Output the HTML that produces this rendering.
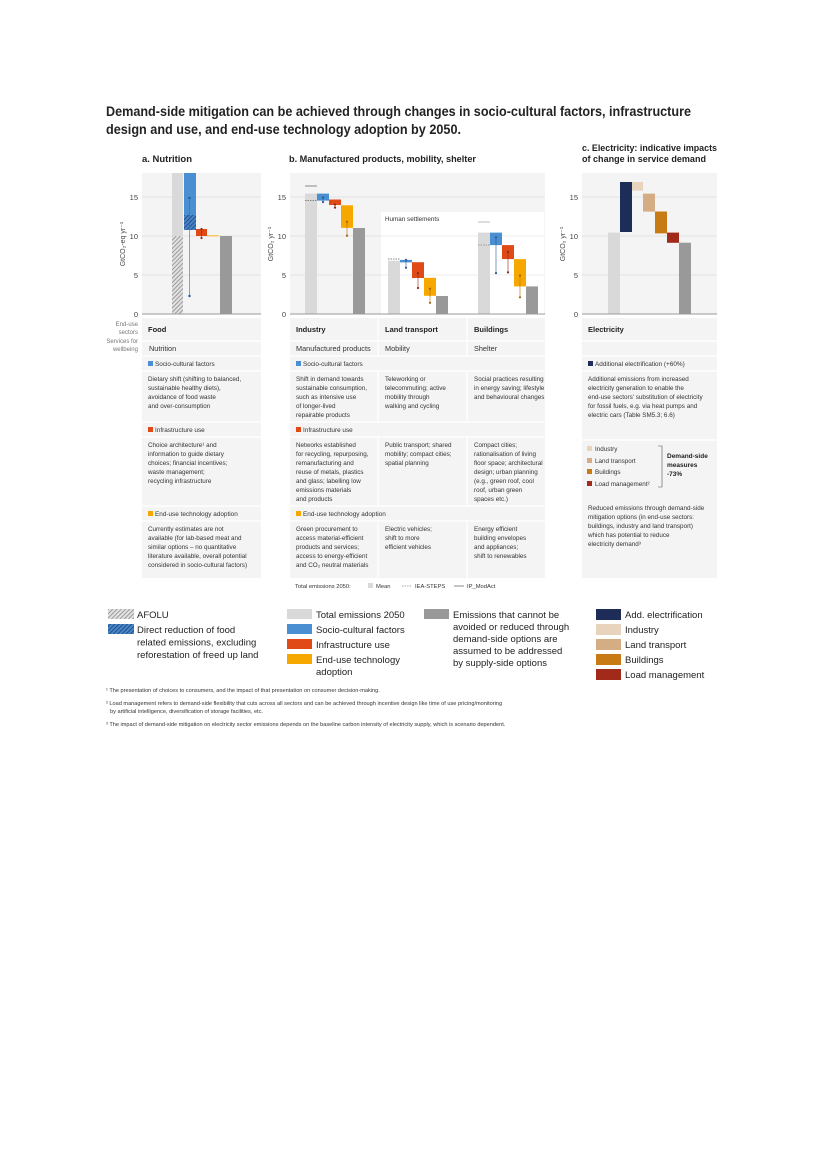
<!DOCTYPE html>
<html><head><meta charset="utf-8"><style>
body{margin:0;background:#fff;}
svg{display:block;font-family:"Liberation Sans",sans-serif;}
</style></head><body>
<svg width="827" height="1169" viewBox="0 0 827 1169" xmlns="http://www.w3.org/2000/svg">
<defs>
<pattern id="hg" width="3" height="3" patternUnits="userSpaceOnUse" patternTransform="rotate(45)">
<rect width="3" height="3" fill="#e2e2e2"/><rect width="1" height="3" fill="#9a9a9a"/></pattern>
<pattern id="hb" width="3" height="3" patternUnits="userSpaceOnUse" patternTransform="rotate(45)">
<rect width="3" height="3" fill="#4a86c8"/><rect width="1" height="3" fill="#1f4f8a"/></pattern>
</defs>
<!-- Title -->
<text x="106" y="116" font-size="13.5" font-weight="bold" fill="#222" textLength="585" lengthAdjust="spacingAndGlyphs">Demand-side mitigation can be achieved through changes in socio-cultural factors, infrastructure</text>
<text x="106" y="134" font-size="13.5" font-weight="bold" fill="#222" textLength="355" lengthAdjust="spacingAndGlyphs">design and use, and end-use technology adoption by 2050.</text>
<text x="142" y="162" font-size="9" font-weight="bold" fill="#222" textLength="50" lengthAdjust="spacingAndGlyphs">a. Nutrition</text>
<text x="289" y="162" font-size="9" font-weight="bold" fill="#222" textLength="187" lengthAdjust="spacingAndGlyphs">b. Manufactured products, mobility, shelter</text>
<text x="582" y="151" font-size="9" font-weight="bold" fill="#222" textLength="135" lengthAdjust="spacingAndGlyphs">c. Electricity: indicative impacts</text>
<text x="582" y="162" font-size="9" font-weight="bold" fill="#222" textLength="124" lengthAdjust="spacingAndGlyphs">of change in service demand</text>

<!-- plot backgrounds -->
<rect x="142" y="173" width="119" height="141" fill="#f4f4f4"/>
<rect x="290" y="173" width="255" height="141" fill="#f4f4f4"/>
<rect x="582" y="173" width="135" height="141" fill="#f4f4f4"/>
<g stroke="#e2e2e2" stroke-width="1">
<line x1="142" x2="261" y1="197" y2="197"/><line x1="142" x2="261" y1="236" y2="236"/><line x1="142" x2="261" y1="275" y2="275"/>
<line x1="290" x2="545" y1="197" y2="197"/><line x1="290" x2="381" y1="236" y2="236"/><line x1="290" x2="381" y1="275" y2="275"/>
<line x1="582" x2="717" y1="197" y2="197"/><line x1="582" x2="717" y1="236" y2="236"/><line x1="582" x2="717" y1="275" y2="275"/>
</g>
<rect x="381" y="212" width="163" height="102" fill="#fff"/>
<g stroke="#ececec"><line x1="381" x2="544" y1="236" y2="236"/><line x1="381" x2="544" y1="275" y2="275"/></g>
<text x="385" y="221" font-size="6.3" fill="#333">Human settlements</text>

<!-- tick labels -->
<g font-size="7.5" fill="#444" text-anchor="end">
<text x="138" y="200">15</text><text x="138" y="239">10</text><text x="138" y="278">5</text><text x="138" y="317">0</text>
<text x="286" y="200">15</text><text x="286" y="239">10</text><text x="286" y="278">5</text><text x="286" y="317">0</text>
<text x="578" y="200">15</text><text x="578" y="239">10</text><text x="578" y="278">5</text><text x="578" y="317">0</text>
</g>
<text transform="translate(125,244) rotate(-90)" font-size="7" fill="#444" text-anchor="middle">GtCO₂-eq yr⁻¹</text>
<text transform="translate(273,244) rotate(-90)" font-size="7" fill="#444" text-anchor="middle">GtCO₂ yr⁻¹</text>
<text transform="translate(565,244) rotate(-90)" font-size="7" fill="#444" text-anchor="middle">GtCO₂ yr⁻¹</text>

<!-- Panel a bars -->
<rect x="172" y="173" width="11" height="63" fill="#d9d9d9"/>
<rect x="172" y="236" width="11" height="78" fill="url(#hg)"/>
<rect x="184" y="173" width="12" height="42" fill="#4a8fd1"/>
<rect x="184" y="215" width="12" height="15" fill="url(#hb)"/>
<rect x="196" y="229" width="11" height="7" fill="#e04a17"/>
<rect x="207" y="235" width="12" height="1.5" fill="#f8c96a"/>
<rect x="220" y="236" width="12" height="78" fill="#999"/>
<line x1="189.5" x2="189.5" y1="198" y2="296" stroke="#3a6ea5" stroke-width="0.6"/>
<circle cx="189.5" cy="198" r="1.2" fill="#2a5a95"/><circle cx="189.5" cy="296" r="1.2" fill="#2a5a95"/>
<line x1="201.5" x2="201.5" y1="229" y2="238" stroke="#8a2a10" stroke-width="0.6"/>
<circle cx="201.5" cy="229" r="1.1" fill="#8a2a10"/><circle cx="201.5" cy="238" r="1.1" fill="#8a2a10"/>

<!-- Panel b Industry -->
<rect x="305" y="193.6" width="12" height="120" fill="#d9d9d9"/>
<line x1="305" x2="317" y1="186" y2="186" stroke="#888" stroke-width="1"/>
<line x1="305" x2="317" y1="200.6" y2="200.6" stroke="#666" stroke-width="0.7" stroke-dasharray="1.5,1"/>
<rect x="317" y="193.6" width="12" height="7" fill="#4a8fd1"/>
<rect x="329" y="199.5" width="12" height="5.5" fill="#e04a17"/>
<rect x="341" y="205.3" width="12" height="22.6" fill="#f6a800"/>
<rect x="353" y="228" width="12" height="86" fill="#999"/>
<!-- LT -->
<rect x="388" y="260.7" width="12" height="53" fill="#d9d9d9"/>
<line x1="388" x2="400" y1="259" y2="259" stroke="#666" stroke-width="0.7" stroke-dasharray="1.5,1"/>
<rect x="400" y="259.9" width="12" height="2.5" fill="#4a8fd1"/>
<rect x="412" y="262.2" width="12" height="15.8" fill="#e04a17"/>
<rect x="424" y="277.8" width="12" height="18" fill="#f6a800"/>
<rect x="436" y="296" width="12" height="18" fill="#999"/>
<!-- Buildings -->
<rect x="478" y="232.6" width="12" height="81" fill="#d9d9d9"/>
<line x1="478" x2="490" y1="222" y2="222" stroke="#bbb" stroke-width="1"/>
<line x1="478" x2="490" y1="245" y2="245" stroke="#888" stroke-width="0.7" stroke-dasharray="1.5,1"/>
<rect x="490" y="232.6" width="12" height="12.5" fill="#4a8fd1"/>
<rect x="502" y="245.1" width="12" height="14" fill="#e04a17"/>
<rect x="514" y="259.1" width="12" height="27.3" fill="#f6a800"/>
<rect x="526" y="286.4" width="12" height="27.3" fill="#999"/>
<!-- error bars b -->
<g stroke-width="0.6">
<line x1="323" x2="323" y1="197.5" y2="202" stroke="#2a5a95"/>
<line x1="335" x2="335" y1="204.5" y2="207.6" stroke="#8a2a10"/>
<line x1="347" x2="347" y1="221.7" y2="235.7" stroke="#b07000"/>
<line x1="406" x2="406" y1="259.9" y2="267.7" stroke="#2a5a95"/>
<line x1="418" x2="418" y1="273.1" y2="288" stroke="#8a2a10"/>
<line x1="430" x2="430" y1="288.7" y2="302.8" stroke="#b07000"/>
<line x1="496" x2="496" y1="237.3" y2="273.1" stroke="#2a5a95"/>
<line x1="508" x2="508" y1="252" y2="272.4" stroke="#8a2a10"/>
<line x1="520" x2="520" y1="275.5" y2="297.3" stroke="#b07000"/>
</g>
<g>
<circle cx="323" cy="197.5" r="1.1" fill="#2a5a95"/><circle cx="323" cy="202" r="1.1" fill="#2a5a95"/>
<circle cx="335" cy="204.5" r="1.1" fill="#8a2a10"/><circle cx="335" cy="207.6" r="1.1" fill="#8a2a10"/>
<circle cx="347" cy="221.7" r="1.1" fill="#a06000"/><circle cx="347" cy="235.7" r="1.1" fill="#a06000"/>
<circle cx="406" cy="259.9" r="1.1" fill="#2a5a95"/><circle cx="406" cy="267.7" r="1.1" fill="#2a5a95"/>
<circle cx="418" cy="273.1" r="1.1" fill="#8a2a10"/><circle cx="418" cy="288" r="1.1" fill="#8a2a10"/>
<circle cx="430" cy="288.7" r="1.1" fill="#a06000"/><circle cx="430" cy="302.8" r="1.1" fill="#a06000"/>
<circle cx="496" cy="237.3" r="1.1" fill="#2a5a95"/><circle cx="496" cy="273.1" r="1.1" fill="#2a5a95"/>
<circle cx="508" cy="252" r="1.1" fill="#8a2a10"/><circle cx="508" cy="272.4" r="1.1" fill="#8a2a10"/>
<circle cx="520" cy="275.5" r="1.1" fill="#a06000"/><circle cx="520" cy="297.3" r="1.1" fill="#a06000"/>
</g>
<!-- Panel c -->
<rect x="608" y="232.6" width="12" height="81" fill="#d9d9d9"/>
<rect x="620" y="182" width="12" height="50" fill="#1e2d57"/>
<rect x="632" y="182" width="11" height="8.6" fill="#e8d3bc"/>
<rect x="643" y="193.6" width="12" height="18" fill="#d5ad85"/>
<rect x="655" y="211.5" width="12" height="21.9" fill="#c87a14"/>
<rect x="667" y="232.6" width="12" height="10.2" fill="#a22a1a"/>
<rect x="679" y="242.7" width="12" height="71" fill="#999"/>
<!-- zero axes -->
<g stroke="#999" stroke-width="1"><line x1="142" x2="261" y1="314" y2="314"/><line x1="290" x2="545" y1="314" y2="314"/><line x1="582" x2="717" y1="314" y2="314"/></g>

<!-- Table side labels -->
<g font-size="6" fill="#777" text-anchor="end">
<text x="138" y="326">End-use</text><text x="138" y="334">sectors</text>
<text x="138" y="343">Services for</text><text x="138" y="351">wellbeing</text>
</g>
<!-- table backgrounds -->
<rect x="142" y="318" width="119" height="260" fill="#f4f4f4"/>
<rect x="290" y="318" width="255" height="260" fill="#f4f4f4"/>
<rect x="582" y="318" width="135" height="260" fill="#f4f4f4"/>
<g stroke="#fff" stroke-width="1.3">
<line x1="142" x2="261" y1="341" y2="341"/><line x1="142" x2="261" y1="356" y2="356"/><line x1="142" x2="261" y1="371" y2="371"/>
<line x1="142" x2="261" y1="422" y2="422"/><line x1="142" x2="261" y1="437" y2="437"/><line x1="142" x2="261" y1="506" y2="506"/><line x1="142" x2="261" y1="521" y2="521"/>
<line x1="290" x2="545" y1="341" y2="341"/><line x1="290" x2="545" y1="356" y2="356"/><line x1="290" x2="545" y1="371" y2="371"/>
<line x1="290" x2="545" y1="422" y2="422"/><line x1="290" x2="545" y1="437" y2="437"/><line x1="290" x2="545" y1="506" y2="506"/><line x1="290" x2="545" y1="521" y2="521"/>
<line x1="378" x2="378" y1="318" y2="356"/><line x1="467" x2="467" y1="318" y2="356"/>
<line x1="378" x2="378" y1="371" y2="422"/><line x1="467" x2="467" y1="371" y2="422"/>
<line x1="378" x2="378" y1="437" y2="506"/><line x1="467" x2="467" y1="437" y2="506"/>
<line x1="378" x2="378" y1="521" y2="578"/><line x1="467" x2="467" y1="521" y2="578"/>
<line x1="582" x2="717" y1="341" y2="341"/><line x1="582" x2="717" y1="356" y2="356"/><line x1="582" x2="717" y1="371" y2="371"/>
<line x1="582" x2="717" y1="440" y2="440"/>
</g>
<g font-size="7.5" font-weight="bold" fill="#222">
<text x="148" y="332">Food</text><text x="296" y="332">Industry</text><text x="385" y="332">Land transport</text><text x="474" y="332">Buildings</text><text x="588" y="332">Electricity</text>
</g>
<g font-size="7.3" fill="#333">
<text x="149" y="351">Nutrition</text><text x="296" y="351">Manufactured products</text><text x="385" y="351">Mobility</text><text x="474" y="351">Shelter</text>
</g>
<!-- section headers -->
<g font-size="6.4" fill="#333">
<rect x="148" y="361" width="5" height="5" fill="#4a8fd1"/><text x="155" y="366">Socio-cultural factors</text>
<rect x="148" y="427" width="5" height="5" fill="#e04a17"/><text x="155" y="432">Infrastructure use</text>
<rect x="148" y="511" width="5" height="5" fill="#f6a800"/><text x="155" y="516">End-use technology adoption</text>
<rect x="296" y="361" width="5" height="5" fill="#4a8fd1"/><text x="303" y="366">Socio-cultural factors</text>
<rect x="296" y="427" width="5" height="5" fill="#e04a17"/><text x="303" y="432">Infrastructure use</text>
<rect x="296" y="511" width="5" height="5" fill="#f6a800"/><text x="303" y="516">End-use technology adoption</text>
<rect x="588" y="361" width="5" height="5" fill="#1e2d57"/><text x="595" y="366">Additional electrification (+60%)</text>
</g>
<g font-size="6.3" fill="#333">
<text x="148" y="381">Dietary shift (shifting to balanced,</text><text x="148" y="390">sustainable healthy diets),</text><text x="148" y="399">avoidance of food waste</text><text x="148" y="408">and over-consumption</text>
<text x="148" y="447">Choice architecture¹ and</text><text x="148" y="456">information to guide dietary</text><text x="148" y="465">choices; financial incentives;</text><text x="148" y="474">waste management;</text><text x="148" y="483">recycling infrastructure</text>
<text x="148" y="531">Currently estimates are not</text><text x="148" y="540">available (for lab-based meat and</text><text x="148" y="549">similar options – no quantitative</text><text x="148" y="558">literature available, overall potential</text><text x="148" y="567">considered in socio-cultural factors)</text>

<text x="296" y="381">Shift in demand towards</text><text x="296" y="390">sustainable consumption,</text><text x="296" y="399">such as intensive use</text><text x="296" y="408">of longer-lived</text><text x="296" y="417">repairable products</text>
<text x="296" y="447">Networks established</text><text x="296" y="456">for recycling, repurposing,</text><text x="296" y="465">remanufacturing and</text><text x="296" y="474">reuse of metals, plastics</text><text x="296" y="483">and glass; labelling low</text><text x="296" y="492">emissions materials</text><text x="296" y="501">and products</text>
<text x="296" y="531">Green procurement to</text><text x="296" y="540">access material-efficient</text><text x="296" y="549">products and services;</text><text x="296" y="558">access to energy-efficient</text><text x="296" y="567">and CO₂ neutral materials</text>

<text x="385" y="381">Teleworking or</text><text x="385" y="390">telecommuting; active</text><text x="385" y="399">mobility through</text><text x="385" y="408">walking and cycling</text>
<text x="385" y="447">Public transport; shared</text><text x="385" y="456">mobility; compact cities;</text><text x="385" y="465">spatial planning</text>
<text x="385" y="531">Electric vehicles;</text><text x="385" y="540">shift to more</text><text x="385" y="549">efficient vehicles</text>

<text x="474" y="381">Social practices resulting</text><text x="474" y="390">in energy saving; lifestyle</text><text x="474" y="399">and behavioural changes</text>
<text x="474" y="447">Compact cities;</text><text x="474" y="456">rationalisation of living</text><text x="474" y="465">floor space; architectural</text><text x="474" y="474">design; urban planning</text><text x="474" y="483">(e.g., green roof, cool</text><text x="474" y="492">roof, urban green</text><text x="474" y="501">spaces etc.)</text>
<text x="474" y="531">Energy efficient</text><text x="474" y="540">building envelopes</text><text x="474" y="549">and appliances;</text><text x="474" y="558">shift to renewables</text>

<text x="588" y="381">Additional emissions from increased</text><text x="588" y="390">electricity generation to enable the</text><text x="588" y="399">end-use sectors' substitution of electricity</text><text x="588" y="408">for fossil fuels, e.g. via heat pumps and</text><text x="588" y="417">electric cars (Table SM5.3; 6.6)</text>
<rect x="587" y="446" width="5" height="5" fill="#e8d3bc"/><text x="595" y="451">Industry</text>
<rect x="587" y="458" width="5" height="5" fill="#d5ad85"/><text x="595" y="463">Land transport</text>
<rect x="587" y="469" width="5" height="5" fill="#c87a14"/><text x="595" y="474">Buildings</text>
<rect x="587" y="481" width="5" height="5" fill="#a22a1a"/><text x="595" y="486">Load management²</text>
<text x="588" y="510">Reduced emissions through demand-side</text><text x="588" y="519">mitigation options (in end-use sectors:</text><text x="588" y="528">buildings, industry and land transport)</text><text x="588" y="537">which has potential to reduce</text><text x="588" y="546">electricity demand³</text>
</g>
<path d="M658,446 H662 V487 H658" fill="none" stroke="#555" stroke-width="0.6"/>
<g font-size="6.5" fill="#222" font-weight="bold"><text x="667" y="458">Demand-side</text><text x="667" y="467">measures</text><text x="667" y="476">-73%</text></g>

<!-- total emissions legend -->
<g font-size="5.8" fill="#333">
<text x="295" y="588">Total emissions 2050:</text>
<rect x="368" y="583" width="5" height="5" fill="#d9d9d9"/><text x="376" y="588">Mean</text>
<line x1="402" x2="412" y1="586" y2="586" stroke="#555" stroke-width="0.6" stroke-dasharray="1.5,1"/><text x="415" y="588">IEA-STEPS</text>
<line x1="454" x2="464" y1="586" y2="586" stroke="#555" stroke-width="0.7"/><text x="467" y="588">IP_ModAct</text>
</g>

<!-- main legend -->
<g font-size="9.5" fill="#222">
<rect x="108" y="609" width="26" height="10" fill="url(#hg)"/><text x="137" y="618">AFOLU</text>
<rect x="108" y="624" width="26" height="10" fill="url(#hb)"/><text x="137" y="633">Direct reduction of food</text><text x="137" y="645.5">related emissions, excluding</text><text x="137" y="658">reforestation of freed up land</text>
<rect x="287" y="609" width="25" height="10" fill="#d9d9d9"/><text x="316" y="618">Total emissions 2050</text>
<rect x="287" y="624" width="25" height="10" fill="#4a8fd1"/><text x="316" y="633">Socio-cultural factors</text>
<rect x="287" y="639" width="25" height="10" fill="#e04a17"/><text x="316" y="648">Infrastructure use</text>
<rect x="287" y="654" width="25" height="10" fill="#f6a800"/><text x="316" y="663">End-use technology</text><text x="316" y="675">adoption</text>
<rect x="424" y="609" width="25" height="10" fill="#999"/><text x="453" y="618">Emissions that cannot be</text><text x="453" y="630">avoided or reduced through</text><text x="453" y="642">demand-side options are</text><text x="453" y="654">assumed to be addressed</text><text x="453" y="666">by supply-side options</text>
<rect x="596" y="609" width="25" height="11" fill="#1e2d57"/><text x="625" y="618">Add. electrification</text>
<rect x="596" y="624" width="25" height="11" fill="#e8d3bc"/><text x="625" y="633">Industry</text>
<rect x="596" y="639" width="25" height="11" fill="#d5ad85"/><text x="625" y="648">Land transport</text>
<rect x="596" y="654" width="25" height="11" fill="#c87a14"/><text x="625" y="663">Buildings</text>
<rect x="596" y="669" width="25" height="11" fill="#a22a1a"/><text x="625" y="678">Load management</text>
</g>
<!-- footnotes -->
<g font-size="5.6" fill="#333">
<text x="106" y="692">¹ The presentation of choices to consumers, and the impact of that presentation on consumer decision-making.</text>
<text x="106" y="705">² Load management refers to demand-side flexibility that cuts across all sectors and can be achieved through incentive design like time of use pricing/monitoring</text>
<text x="110" y="713">by artificial intelligence, diversification of storage facilities, etc.</text>
<text x="106" y="726">³ The impact of demand-side mitigation on electricity sector emissions depends on the baseline carbon intensity of electricity supply, which is scenario dependent.</text>
</g>
</svg>
</body></html>
